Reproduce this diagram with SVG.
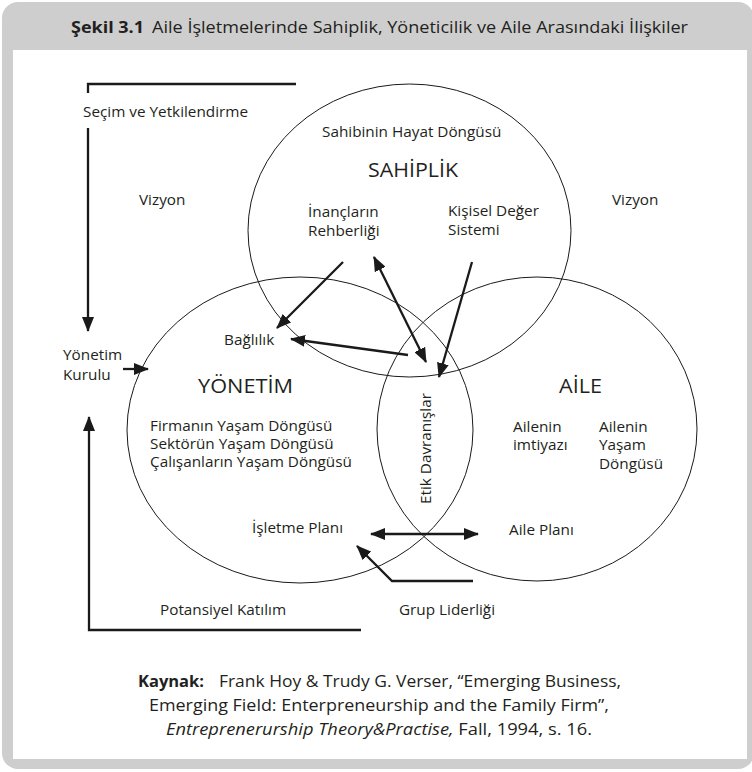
<svg xmlns="http://www.w3.org/2000/svg" width="752" height="772" viewBox="0 0 752 772">
  <style>
    .lbl { font-family: "Open Sans", "Noto Sans", "DejaVu Sans", sans-serif; font-size: 15.3px; fill: #231f20; }
    .big { font-family: "Open Sans", "Noto Sans", "DejaVu Sans", sans-serif; font-size: 19.5px; fill: #231f20; }
    .cap { font-family: "Open Sans", "Noto Sans", "DejaVu Sans", sans-serif; font-size: 16px; fill: #231f20; }
    .ring { fill: none; stroke: #1a1a1a; stroke-width: 1; }
    .link { fill: none; stroke: #1a1a1a; stroke-width: 2.3; }
    .arr { marker-end: url(#ah); }
    .both { marker-start: url(#ah); marker-end: url(#ah); }
  </style>
  <defs>
    <marker id="ah" viewBox="0 0 15 12" refX="14" refY="6" markerWidth="15" markerHeight="12" markerUnits="userSpaceOnUse" orient="auto-start-reverse">
      <path d="M0,0 L15,6 L0,12 z" fill="#1a1a1a"/>
    </marker>
  </defs>

  <!-- frame -->
  <rect x="2" y="2" width="752" height="767" rx="16" ry="16" fill="#cdcecd"/>
  <rect x="13" y="50" width="734" height="709" fill="#ffffff"/>

  <!-- heading -->
  <g id="title">
    <text class="cap" x="71" y="33" font-weight="bold" textLength="73" lengthAdjust="spacingAndGlyphs">Şekil 3.1</text>
    <text class="cap" x="152" y="33" textLength="536" lengthAdjust="spacingAndGlyphs">Aile İşletmelerinde Sahiplik, Yöneticilik ve Aile Arasındaki İlişkiler</text>
  </g>

  <!-- three overlapping domains -->
  <g id="sahiplik">
    <ellipse class="ring" cx="409.5" cy="230.5" rx="161.5" ry="146.5"/>
    <text class="lbl" x="322" y="137">Sahibinin Hayat Döngüsü</text>
    <text class="big" x="368" y="177" textLength="90" lengthAdjust="spacingAndGlyphs">SAHİPLİK</text>
    <text class="lbl" x="308" y="217">İnançların</text>
    <text class="lbl" x="308" y="236">Rehberliği</text>
    <text class="lbl" x="448" y="216">Kişisel Değer</text>
    <text class="lbl" x="448" y="235">Sistemi</text>
  </g>

  <g id="yonetim">
    <ellipse class="ring" cx="300" cy="430" rx="173" ry="153"/>
    <text class="lbl" x="224" y="345">Bağlılık</text>
    <text class="big" x="198" y="393" textLength="95" lengthAdjust="spacingAndGlyphs">YÖNETİM</text>
    <text class="lbl" x="150" y="431">Firmanın Yaşam Döngüsü</text>
    <text class="lbl" x="150" y="449">Sektörün Yaşam Döngüsü</text>
    <text class="lbl" x="150" y="467">Çalışanların Yaşam Döngüsü</text>
    <text class="lbl" x="252" y="533">İşletme Planı</text>
  </g>

  <g id="aile">
    <ellipse class="ring" cx="537" cy="429" rx="160" ry="152"/>
    <text class="big" x="559" y="393" textLength="43" lengthAdjust="spacingAndGlyphs">AİLE</text>
    <text class="lbl" x="513" y="432">Ailenin</text>
    <text class="lbl" x="513" y="450">imtiyazı</text>
    <text class="lbl" x="599" y="432">Ailenin</text>
    <text class="lbl" x="599" y="450">Yaşam</text>
    <text class="lbl" x="599" y="469">Döngüsü</text>
    <text class="lbl" x="509" y="535">Aile Planı</text>
  </g>

  <g id="etik">
    <text class="lbl" transform="translate(431,448.5) rotate(-90)" text-anchor="middle">Etik Davranışlar</text>
  </g>

  <!-- outer labels -->
  <g id="secim">
    <text class="lbl" x="83" y="117">Seçim ve Yetkilendirme</text>
  </g>
  <g id="vizyon-sol">
    <text class="lbl" x="139" y="205">Vizyon</text>
  </g>
  <g id="vizyon-sag">
    <text class="lbl" x="612" y="205">Vizyon</text>
  </g>
  <g id="yonetim-kurulu">
    <text class="lbl" x="63" y="360">Yönetim</text>
    <text class="lbl" x="63" y="380">Kurulu</text>
  </g>
  <g id="potansiyel">
    <text class="lbl" x="160" y="615">Potansiyel Katılım</text>
  </g>
  <g id="grup">
    <text class="lbl" x="399" y="615">Grup Liderliği</text>
  </g>

  <!-- connectors -->
  <g id="connectors">
    <path class="link" d="M88,93 L88,84 L296,84"/>
    <path class="link arr" d="M88,128 L88,331"/>
    <path class="link arr" d="M123,369 L148,369"/>
    <path class="link arr" d="M361,630 L89,630 L89,417"/>
    <path class="link arr" d="M343,262 L277,328"/>
    <path class="link arr" d="M408,355 L291,339"/>
    <path class="link both" d="M374,257 L426,362"/>
    <path class="link arr" d="M472,262 L439,377"/>
    <path class="link both" d="M371,534 L478,534"/>
    <path class="link arr" d="M473,581 L392,581 L357,546"/>
  </g>

  <!-- source note -->
  <g id="kaynak">
    <text class="cap" x="138" y="687" font-weight="bold" textLength="66" lengthAdjust="spacingAndGlyphs">Kaynak:</text>
    <text class="cap" x="219" y="687" textLength="402" lengthAdjust="spacingAndGlyphs">Frank Hoy &amp; Trudy G. Verser, “Emerging Business,</text>
    <text class="cap" x="149" y="711" textLength="460" lengthAdjust="spacingAndGlyphs">Emerging Field: Enterpreneurship and the Family Firm”,</text>
    <text class="cap" x="166" y="735" textLength="426" lengthAdjust="spacingAndGlyphs"><tspan font-style="italic">Entreprenerurship Theory&amp;Practise,</tspan> Fall, 1994,  s. 16.</text>
  </g>
</svg>
